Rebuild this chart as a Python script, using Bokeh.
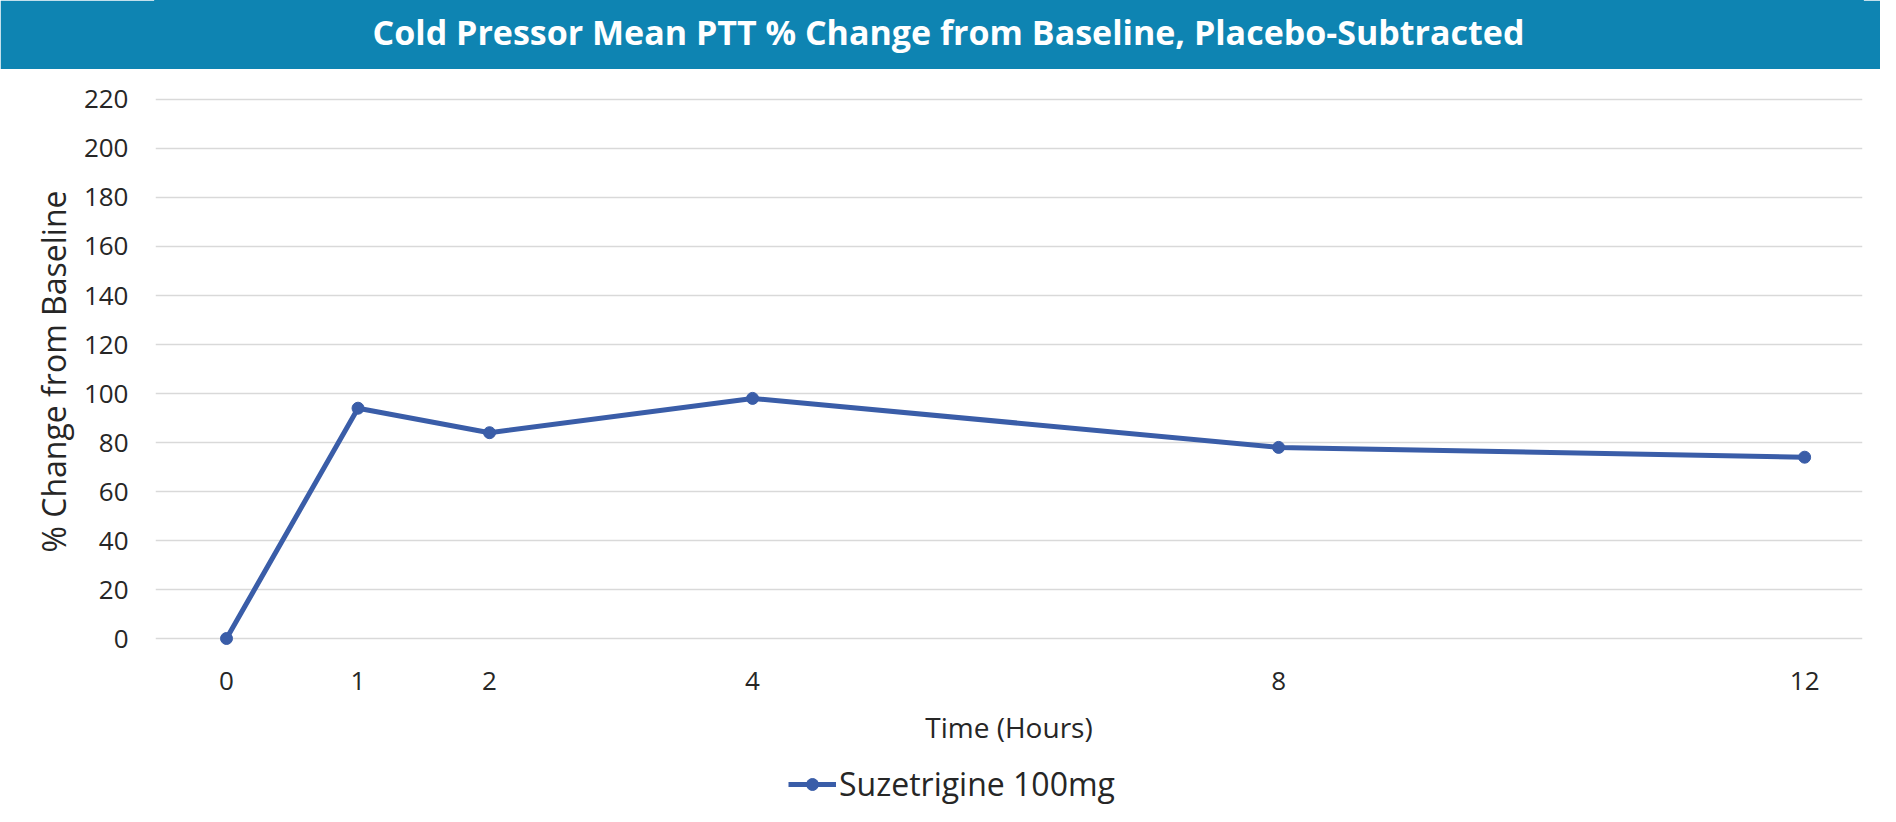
from bokeh.plotting import figure
from bokeh.models import (Range1d, FixedTicker, Label, Legend, LegendItem, ColumnDataSource)
from bokeh.layouts import column
from bokeh.embed import file_html
from bokeh.resources import INLINE

# ---- data ----
title_text = "Cold Pressor Mean PTT % Change from Baseline, Placebo-Subtracted"
time_hours = [0, 1, 2, 4, 8, 12]
pct_change = [0, 94, 84, 98, 78, 74]
series_name = "Suzetrigine 100mg"
x_ticks = [0, 1, 2, 4, 8, 12]
y_ticks = [0, 20, 40, 60, 80, 100, 120, 140, 160, 180, 200, 220]
x_label = "Time (Hours)"
y_label = "% Change from Baseline"

BAR = "#0E84B2"
LINE = "#3A5DA8"
TXT = "#262626"
FONT = "Open Sans"

W = 1880
H_TOP = 69
H_MAIN = 691
H_LEG = 806 - H_TOP - H_MAIN

# ---- title bar ----
top = figure(width=W, height=H_TOP, output_backend="svg", toolbar_location=None,
             x_range=Range1d(0, 1), y_range=Range1d(0, 1), min_border=0,
             background_fill_color=BAR, border_fill_color=BAR,
             outline_line_color=BAR, outline_line_width=3)
top.axis.visible = False
top.grid.visible = False
top.add_layout(Label(x=793, y=38, x_units="screen", y_units="screen", text=title_text,
                     text_align="center", text_baseline="alphabetic",
                     text_font=FONT, text_font_style="bold", text_font_size="34px",
                     text_color="white"))

# ---- main chart ----
p = figure(width=W, height=H_MAIN, output_backend="svg", toolbar_location=None,
           x_range=Range1d(-0.54, 12.44), y_range=Range1d(-4.08, 222.04),
           min_border_left=155, min_border_right=18, min_border_top=25, min_border_bottom=112,
           outline_line_color=None, background_fill_color="white", border_fill_color="white")

src = ColumnDataSource(dict(x=time_hours, y=pct_change))
p.line("x", "y", source=src, line_color=LINE, line_width=5)
p.scatter("x", "y", source=src, size=12, fill_color=LINE, line_color=LINE)

p.xgrid.visible = False
p.ygrid.ticker = FixedTicker(ticks=y_ticks)
p.ygrid.grid_line_color = "#D9D9D9"
p.ygrid.grid_line_width = 1.5

p.xaxis.ticker = FixedTicker(ticks=x_ticks)
p.yaxis.ticker = FixedTicker(ticks=y_ticks)
for ax in (p.xaxis[0], p.yaxis[0]):
    ax.axis_line_color = None
    ax.major_tick_line_color = None
    ax.minor_tick_line_color = None
    ax.major_tick_out = 0
    ax.major_tick_in = 0
    ax.major_label_text_font = FONT
    ax.major_label_text_font_size = "26px"
    ax.major_label_text_color = TXT
    ax.axis_label_text_font = FONT
    ax.axis_label_text_font_style = "normal"
    ax.axis_label_text_color = TXT

p.xaxis.axis_label = x_label
p.xaxis.axis_label_text_font_size = "28px"
p.xaxis.major_label_standoff = 23
p.xaxis.axis_label_standoff = 15

p.yaxis.axis_label = y_label
p.yaxis.axis_label_text_font_size = "32px"
p.yaxis.major_label_standoff = 27
p.yaxis.axis_label_standoff = 6

# ---- legend strip (same series, legend only; its y-range keeps the marks out of view) ----
leg = figure(width=W, height=H_LEG, output_backend="svg", toolbar_location=None,
             x_range=Range1d(-0.54, 12.44), y_range=Range1d(1000, 1001), min_border=0,
             outline_line_color=None, background_fill_color="white", border_fill_color="white")
leg.axis.visible = False
leg.grid.visible = False
l_line = leg.line("x", "y", source=src, line_color=LINE, line_width=5)
l_pts = leg.scatter("x", "y", source=src, size=12, fill_color=LINE, line_color=LINE)
legend = Legend(items=[LegendItem(label=series_name, renderers=[l_line, l_pts])],
                location=(633, 1), orientation="horizontal",
                label_text_font=FONT, label_text_font_size="32px", label_text_color=TXT,
                glyph_width=48, glyph_height=30, label_standoff=3,
                padding=0, margin=0, spacing=0,
                border_line_color=None, background_fill_alpha=0)
leg.add_layout(legend, "center")

layout = column(top, p, leg, spacing=0)
open("out.html", "w").write(file_html(layout, INLINE))
